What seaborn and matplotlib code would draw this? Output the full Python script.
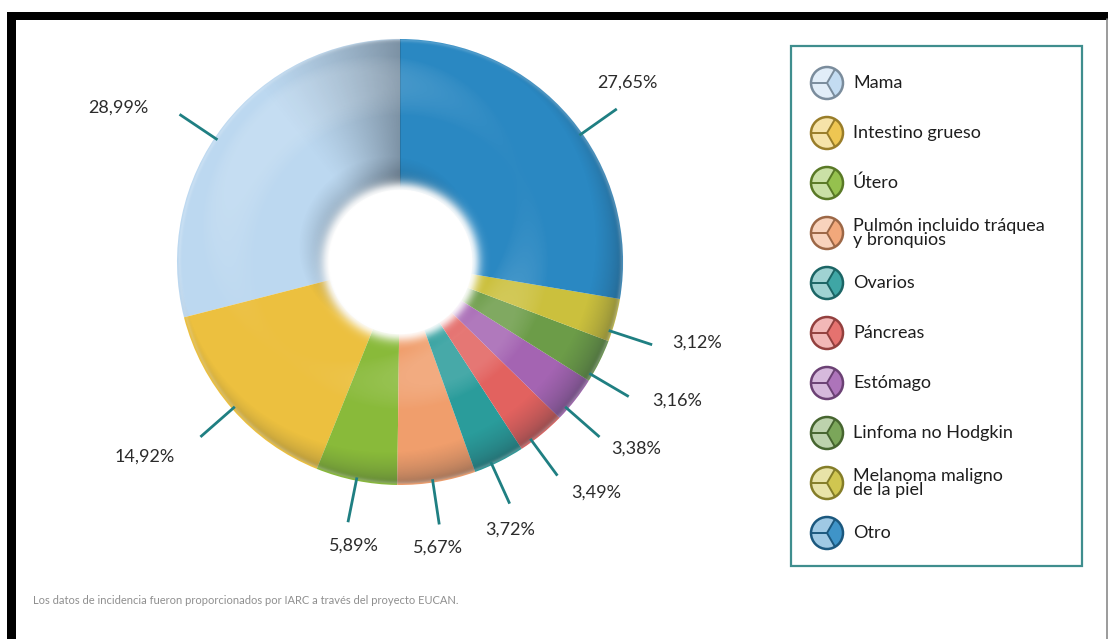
import numpy as np
import matplotlib
matplotlib.use("Agg")
import matplotlib.pyplot as plt
from matplotlib.patches import Wedge, Circle, Rectangle
from matplotlib.colors import to_rgb
import seaborn as sns

# ---- data -------------------------------------------------------------
categories = [
    "Mama",
    "Intestino grueso",
    "Útero",
    "Pulmón incluido tráquea\ny bronquios",
    "Ovarios",
    "Páncreas",
    "Estómago",
    "Linfoma no Hodgkin",
    "Melanoma maligno\nde la piel",
    "Otro",
]
shares = [28.99, 14.92, 5.89, 5.67, 3.72, 3.49, 3.38, 3.16, 3.12, 27.65]
colors = [
    "#bcd8f0", "#ecc03f", "#89ba3a", "#f09e6c", "#2a9c9b",
    "#e2625f", "#a464b2", "#6c9c48", "#cbc03d", "#2a88c2",
]
footnote = ("Los datos de incidencia fueron proporcionados por IARC "
            "a través del proyecto EUCAN.")

# ---- theme ------------------------------------------------------------
sns.set_theme(style="white")
plt.rcParams["font.family"] = ["Lato", "DejaVu Sans"]
palette = sns.color_palette(colors)

W, H = 1108, 639
CX, CY, RPX = 400, 262, 223          # donut centre / radius in pixels
R_IN = 0.32

fig = plt.figure(figsize=(W / 100, H / 100), dpi=100)
fig.patch.set_facecolor("white")

# donut axes: one data unit == donut radius, origin at donut centre
ax = fig.add_axes([0, 0, 1, 1])
wedges, _ = ax.pie(
    shares, colors=palette, startangle=90, counterclock=True, radius=1,
    wedgeprops=dict(width=1 - R_IN, edgecolor="none", antialiased=True),
)
ax.set_aspect("auto")
ax.axis("off")
# clean hole edge
ax.add_patch(Circle((0, 0), R_IN + 0.004, facecolor="white",
                    edgecolor="none", zorder=2.5))

# ---- torus-like shading over the ring --------------------------------
n = 900
ext = 1.02
xs = np.linspace(-ext, ext, n)
X, Y = np.meshgrid(xs, xs)
R = np.hypot(X, Y)
TH = np.degrees(np.arctan2(Y, X)) % 360
outer_mask = np.clip((1 - R) / 0.008, 0, 1)
ring_mask = outer_mask * np.clip((R - R_IN) / 0.004, 0, 1)

rc, a = (1 + R_IN) / 2, (1 - R_IN) / 2
u = np.clip((R - rc) / a, -1, 1)
nz = np.sqrt(1 - u ** 2)
nx = u * np.cos(np.radians(TH))
ny = u * np.sin(np.radians(TH))
L = np.array([-0.35, 0.45, 1.0])
L /= np.linalg.norm(L)
I = nx * L[0] + ny * L[1] + nz * L[2]

dark = np.clip((0.50 - I) * 0.5, 0, 0.40)

# soft shadow cast on the first wedge next to its starting edge
w0 = wedges[0]
d = (TH - w0.theta1) % 360
shadow = np.where(d < (w0.theta2 - w0.theta1),
                  0.40 * np.clip(1 - d / 40.0, 0, 1) ** 1.4, 0)

dark_rgba = np.zeros((n, n, 4))
dark_rgba[..., :3] = to_rgb("#1d2833")
dark_rgba[..., 3] = np.clip(dark + shadow, 0, 0.6) * ring_mask
ax.imshow(dark_rgba, extent=(-ext, ext, -ext, ext), origin="lower",
          zorder=3, interpolation="bilinear")

light = np.clip((I - 0.86) * 1.4, 0, 0.14)
halo = np.exp(-((R - R_IN) / 0.04) ** 2) * 0.95
halo = np.where(R < R_IN, 1.0, halo)
outer = np.exp(-((1 - R) / 0.012) ** 2) * 0.3
light_rgba = np.zeros((n, n, 4))
light_rgba[..., :3] = 1.0
light_rgba[..., 3] = np.clip(light + halo + outer, 0, 1) * outer_mask
ax.imshow(light_rgba, extent=(-ext, ext, -ext, ext), origin="lower",
          zorder=4, interpolation="bilinear")
ax.set_xlim(-CX / RPX, (W - CX) / RPX)
ax.set_ylim(-(H - CY) / RPX, CY / RPX)

# ---- percentage labels with leader lines ------------------------------
# (line angle offset, text angle offset, text radius) per category
label_style = {
    "Mama": (4, 9, 1.44),
    "Intestino grueso": (0, -4, 1.44),
    "Útero": (0, 2, 1.29),
    "Pulmón incluido tráquea\ny bronquios": (-1, -2, 1.29),
    "Ovarios": (-2, -4, 1.30),
    "Páncreas": (-3, 1, 1.36),
    "Estómago": (-3, 0, 1.35),
    "Linfoma no Hodgkin": (-4, 0, 1.39),
    "Melanoma maligno\nde la piel": (-3, 0, 1.38),
    "Otro": (-5, -2, 1.30),
}
line_col = "#1f7f82"
for w, cat, v in zip(wedges, categories, shares):
    mid = (w.theta1 + w.theta2) / 2
    lo, to, tr = label_style[cat]
    la = np.radians(mid + lo)
    ax.plot([0.985 * np.cos(la), 1.19 * np.cos(la)],
            [0.985 * np.sin(la), 1.19 * np.sin(la)],
            color=line_col, lw=2.0, solid_capstyle="butt", zorder=5)
    ta = np.radians(mid + to)
    ax.text(tr * np.cos(ta), tr * np.sin(ta),
            f"{v:.2f}%".replace(".", ","), ha="center", va="center",
            fontsize=13, color="#2b2b2b", zorder=6)

# ---- overlay in pixel coordinates: frame, legend, footnote ------------
lax = fig.add_axes([0, 0, 1, 1], zorder=10)
lax.set_xlim(0, W)
lax.set_ylim(H, 0)
lax.axis("off")
lax.patch.set_alpha(0)

# frame
lax.add_patch(Rectangle((7, 12), W - 7, 7.5, color="black", lw=0))
lax.add_patch(Rectangle((7, 12), 8.5, H - 12, color="black", lw=0))
lax.plot([1106.5, 1106.5], [19, H], color="#8a8a8a", lw=1.2)

# legend box
lax.add_patch(Rectangle((791, 46), 291, 520, fill=False,
                        edgecolor="#3f8e8e", lw=1.6))


def mix(c, t):
    r, g, b = to_rgb(c)
    return (r + (1 - r) * t, g + (1 - g) * t, b + (1 - b) * t)


def shade(c, t):
    r, g, b = to_rgb(c)
    return (r * (1 - t), g * (1 - t), b * (1 - t))


ir = 16
for i, (cat, col) in enumerate(zip(categories, colors)):
    cx, cy = 827, 83 + 50 * i
    edge = shade(col, 0.35)
    lax.add_patch(Wedge((cx, cy), ir, 60, 300, facecolor=mix(col, 0.55),
                        edgecolor="none"))
    lax.add_patch(Wedge((cx, cy), ir, -60, 60, facecolor=mix(col, 0.1),
                        edgecolor="none"))
    for ang in (180, 60, -60):
        rad = np.radians(ang)
        lax.plot([cx, cx + ir * np.cos(rad)], [cy, cy - ir * np.sin(rad)],
                 color=edge, lw=1.4, solid_capstyle="butt")
    lax.add_patch(Circle((cx, cy), ir, fill=False, edgecolor=edge, lw=1.8))
    lax.text(853, cy, cat, ha="left", va="center", fontsize=13,
             color="#1e1e1e", linespacing=0.85)

# footnote
lax.text(33, 600, footnote, ha="left", va="center", fontsize=8,
         color="#8f8f8f")

fig.savefig("out.png", dpi=100, facecolor="white")
